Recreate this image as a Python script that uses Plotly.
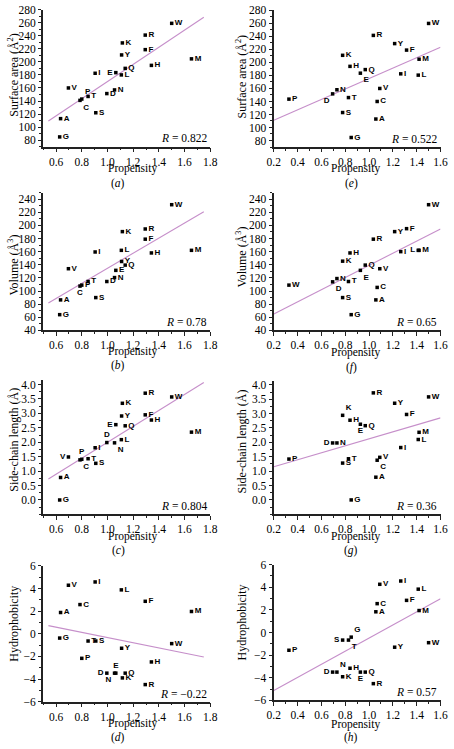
import numpy as np
import plotly.graph_objects as go

residues = ["A", "C", "D", "E", "F", "G", "H", "I", "K", "L",
            "M", "N", "P", "Q", "R", "S", "T", "V", "W", "Y"]
labels_f = ["A", "C", "D", "E", "F", "G", "H", "I", "K", "L",
            "M", "N", "W", "Q", "R", "S", "T", "V", "W", "Y"]

prop_left = [0.635, 0.786, 0.995, 1.065, 1.294, 0.628, 1.342, 0.904, 1.116, 1.108,
             1.654, 1.055, 0.80, 1.138, 1.294, 0.909, 0.849, 0.696, 1.50, 1.11]
prop_right = [1.057, 1.068, 0.694, 0.927, 1.315, 0.85, 0.84, 1.266, 0.778, 1.413,
              1.42, 0.73, 0.327, 0.968, 1.036, 0.778, 0.827, 1.09, 1.50, 1.215]

surf_a = [113, 141, 151.4, 183.5, 218.7, 85, 194.6, 182.5, 229, 180,
          204.6, 157, 143, 190, 241, 122, 147, 160, 259, 210.6]
surf_e = [113, 140, 151.7, 183.5, 219, 84.6, 194, 182.5, 211, 180.5,
          205, 158, 143.6, 189, 241.6, 123, 146, 160, 260, 229]
vol_b = [86.5, 107.5, 114.5, 131.5, 179, 64, 158, 159.5, 190.5, 162,
         162, 120.5, 109, 139.5, 194.5, 90, 114.5, 134, 231.5, 145]
vol_f = [86.5, 105.5, 114, 131.5, 195, 64, 158, 160, 145.5, 162,
         162, 119, 109, 139.5, 179, 90, 114.5, 134, 231.5, 190.5]
side_c = [0.78, 1.39, 1.99, 2.61, 2.95, 0.0, 2.77, 1.81, 3.35, 2.09,
          2.35, 1.98, 1.41, 2.57, 3.70, 1.27, 1.43, 1.49, 3.57, 2.91]
side_g = [0.79, 1.38, 1.98, 2.63, 2.97, 0.0, 2.77, 1.82, 2.94, 2.10,
          2.35, 1.98, 1.42, 2.58, 3.72, 1.28, 1.43, 1.48, 3.58, 3.36]
hyd_d = [1.88, 2.58, -3.48, -3.48, 2.87, -0.38, -2.49, 4.58, -3.9, 3.88,
         1.97, -3.48, -2.17, -3.48, -4.49, -0.64, -0.64, 4.29, -0.87, -1.28]
hyd_h = [1.83, 2.55, -3.5, -3.5, 2.84, -0.41, -3.16, 4.55, -3.91, 3.83,
         1.94, -3.5, -1.57, -3.5, -4.52, -0.67, -0.67, 4.26, -0.9, -1.3]

r_text = ["0.822", "0.78", "0.804", "\u22120.22", "0.522", "0.65", "0.36", "0.57"]
panel_letters = ["a", "b", "c", "d", "e", "f", "g", "h"]
y_titles = ["Surface area (Å<sup>2</sup>)", "Volume (Å<sup>3</sup>)",
            "Side-chain length (Å)", "Hydrophobicity"]

x_ticks_left = [0.6, 0.8, 1.0, 1.2, 1.4, 1.6, 1.8]
x_ticks_right = [0.2, 0.4, 0.6, 0.8, 1.0, 1.2, 1.4, 1.6]
surf_ticks = [80, 100, 120, 140, 160, 180, 200, 220, 240, 260, 280]
vol_ticks = [40, 60, 80, 100, 120, 140, 160, 180, 200, 220, 240]
side_ticks = [0.0, 0.5, 1.0, 1.5, 2.0, 2.5, 3.0, 3.5, 4.0]
hyd_ticks = [-6, -4, -2, 0, 2, 4, 6]

W, H = 454, 749
SERIF = "Liberation Serif"
SANS = "Liberation Sans"

# label position overrides per panel (style only)
pos_over = {
    "a": {"E": "middle left", "P": "top right", "C": "bottom right"},
    "b": {"C": "bottom center"},
    "c": {"V": "middle left", "D": "top center", "P": "top center",
          "C": "bottom right", "E": "middle left", "N": "bottom right"},
    "d": {"E": "top center", "N": "bottom left", "D": "middle left"},
    "e": {"D": "bottom left", "E": "bottom right"},
    "f": {"D": "bottom right", "E": "bottom right", "L": "middle left"},
    "g": {"D": "middle left", "E": "bottom center", "C": "bottom right",
          "K": "top right"},
    "h": {"D": "middle left", "N": "top right", "E": "bottom center",
          "S": "middle left", "T": "bottom right", "G": "top right"},
}

panels = [
    ("a", prop_left, surf_a, residues, 0, 0),
    ("b", prop_left, vol_b, residues, 0, 1),
    ("c", prop_left, side_c, residues, 0, 2),
    ("d", prop_left, hyd_d, residues, 0, 3),
    ("e", prop_right, surf_e, residues, 1, 0),
    ("f", prop_right, vol_f, labels_f, 1, 1),
    ("g", prop_right, side_g, residues, 1, 2),
    ("h", prop_right, hyd_h, residues, 1, 3),
]

# layout geometry in pixels
x_px = [(37.4, 209.7), (275.3, 447.3)]
y_px = [
    [(3.7, 143.0), (189.6, 329.7), (380.3, 516.7), (569.0, 707.0)],
    [(4.5, 143.3), (189.6, 329.7), (380.6, 516.6), (567.7, 705.7)],
]
x_ranges = [[0.5, 1.8], [0.2, 1.6]]
x_tickvals = [x_ticks_left, x_ticks_right]
fit_extent = [[0.54, 1.75], [0.2, 1.6]]
y_ranges = [[70, 280], [40, 250], [-0.5, 4.15], [-6, 6]]
y_tickvals = [surf_ticks, vol_ticks, side_ticks, hyd_ticks]
y_fmt = ["{:.0f}", "{:.0f}", "{:.1f}", "{:.0f}"]
y_minor = [10, 10, 0.25, 1]
y_minor0 = [70, 40, -0.5, -6]
ytitle_px = [[70, 263, 441, 628], [72, 255, 443, 627]]
ytitle_x = [7, 242]
xtitle_px = [[165, 351, 539, 729], [165, 352, 539, 730]]
letter_px = [[180, 365, 553, 743], [180, 367, 553, 743]]
xtitle_x = [130, 360]
letter_x = [115, 355]

fig = go.Figure()
layout = dict(width=W, height=H, autosize=False,
              margin=dict(l=0, r=0, t=0, b=0, pad=0),
              paper_bgcolor="white", plot_bgcolor="white",
              showlegend=False, annotations=[])

def fmt_minus(s):
    return s.replace("-", "\u2212")

for i, (letter, xs, ys, labs, col, row) in enumerate(panels):
    n = i + 1
    xa = "x" if n == 1 else f"x{n}"
    ya = "y" if n == 1 else f"y{n}"
    xkey = "xaxis" if n == 1 else f"xaxis{n}"
    ykey = "yaxis" if n == 1 else f"yaxis{n}"
    x0, x1 = x_px[col]
    t, b = y_px[col][row]

    layout[xkey] = dict(
        domain=[x0 / W, x1 / W], range=x_ranges[col], anchor=ya,
        showline=True, linecolor="#222", linewidth=1.5, showgrid=False,
        zeroline=False, ticks="outside", ticklen=3.5, tickwidth=1.2, tickcolor="#222",
        tickmode="array", tickvals=x_tickvals[col],
        ticktext=["{:.1f}".format(v) for v in x_tickvals[col]],
        tickfont=dict(family=SERIF, size=11.5, color="black"),
        ticklabeloverflow="allow", ticklabelstandoff=0,
        minor=dict(ticks="outside", ticklen=2, tickwidth=1, tickcolor="#222",
                   dtick=0.1, tick0=0.0, showgrid=False),
    )
    layout[ykey] = dict(
        domain=[1 - b / H, 1 - t / H], range=y_ranges[row], anchor=xa,
        showline=True, linecolor="#222", linewidth=1.5, showgrid=False,
        zeroline=False, ticks="outside", ticklen=3.5, tickwidth=1.2, tickcolor="#222",
        tickmode="array", tickvals=y_tickvals[row],
        ticktext=[fmt_minus(y_fmt[row].format(v)) for v in y_tickvals[row]],
        tickfont=dict(family=SERIF, size=11.5, color="black"),
        ticklabeloverflow="allow", ticklabelstandoff=0,
        minor=dict(ticks="outside", ticklen=2, tickwidth=1, tickcolor="#222",
                   dtick=y_minor[row], tick0=y_minor0[row], showgrid=False),
    )

    # regression line from data
    xarr = np.array(xs, dtype=float)
    yarr = np.array(ys, dtype=float)
    slope, icpt = np.polyfit(xarr, yarr, 1)
    fx = np.array(fit_extent[col])
    fig.add_trace(go.Scatter(x=fx, y=slope * fx + icpt, mode="lines",
                             line=dict(color="#c68fca", width=1.1),
                             xaxis=xa, yaxis=ya, hoverinfo="skip"))

    over = pos_over.get(letter, {})
    tpos = [over.get(l, "middle right") for l in residues]
    fig.add_trace(go.Scatter(
        x=xs, y=ys, mode="markers+text", text=labs, textposition=tpos,
        marker=dict(symbol="square", size=3.5, color="black"),
        textfont=dict(family=SANS, size=8, color="black", weight="bold"),
        cliponaxis=False, xaxis=xa, yaxis=ya))

    ann = layout["annotations"]
    ann.append(dict(xref=f"{xa} domain", yref=f"{ya} domain", x=0.99, y=0.06,
                    xanchor="right", yanchor="middle", showarrow=False,
                    text=f"<i>R</i> = {r_text[i]}",
                    font=dict(family=SERIF, size=11.5, color="black")))
    ann.append(dict(xref="paper", yref="paper", x=xtitle_x[col] / W,
                    y=1 - xtitle_px[col][row] / H, xanchor="center", yanchor="middle",
                    showarrow=False, text="Propensity",
                    font=dict(family=SERIF, size=11.5, color="black")))
    ann.append(dict(xref="paper", yref="paper", x=letter_x[col] / W,
                    y=1 - letter_px[col][row] / H, xanchor="center", yanchor="middle",
                    showarrow=False, text=f"(<i>{letter}</i>)",
                    font=dict(family=SERIF, size=11.5, color="black")))
    ann.append(dict(xref="paper", yref="paper", x=ytitle_x[col] / W,
                    y=1 - ytitle_px[col][row] / H, xanchor="center", yanchor="middle",
                    showarrow=False, textangle=-90, text=y_titles[row],
                    font=dict(family=SERIF, size=12, color="black")))

fig.update_layout(**layout)
fig.write_html("out.html",
               config={"displayModeBar": False},
               post_script="document.body.style.margin='0';document.body.style.padding='0';")
